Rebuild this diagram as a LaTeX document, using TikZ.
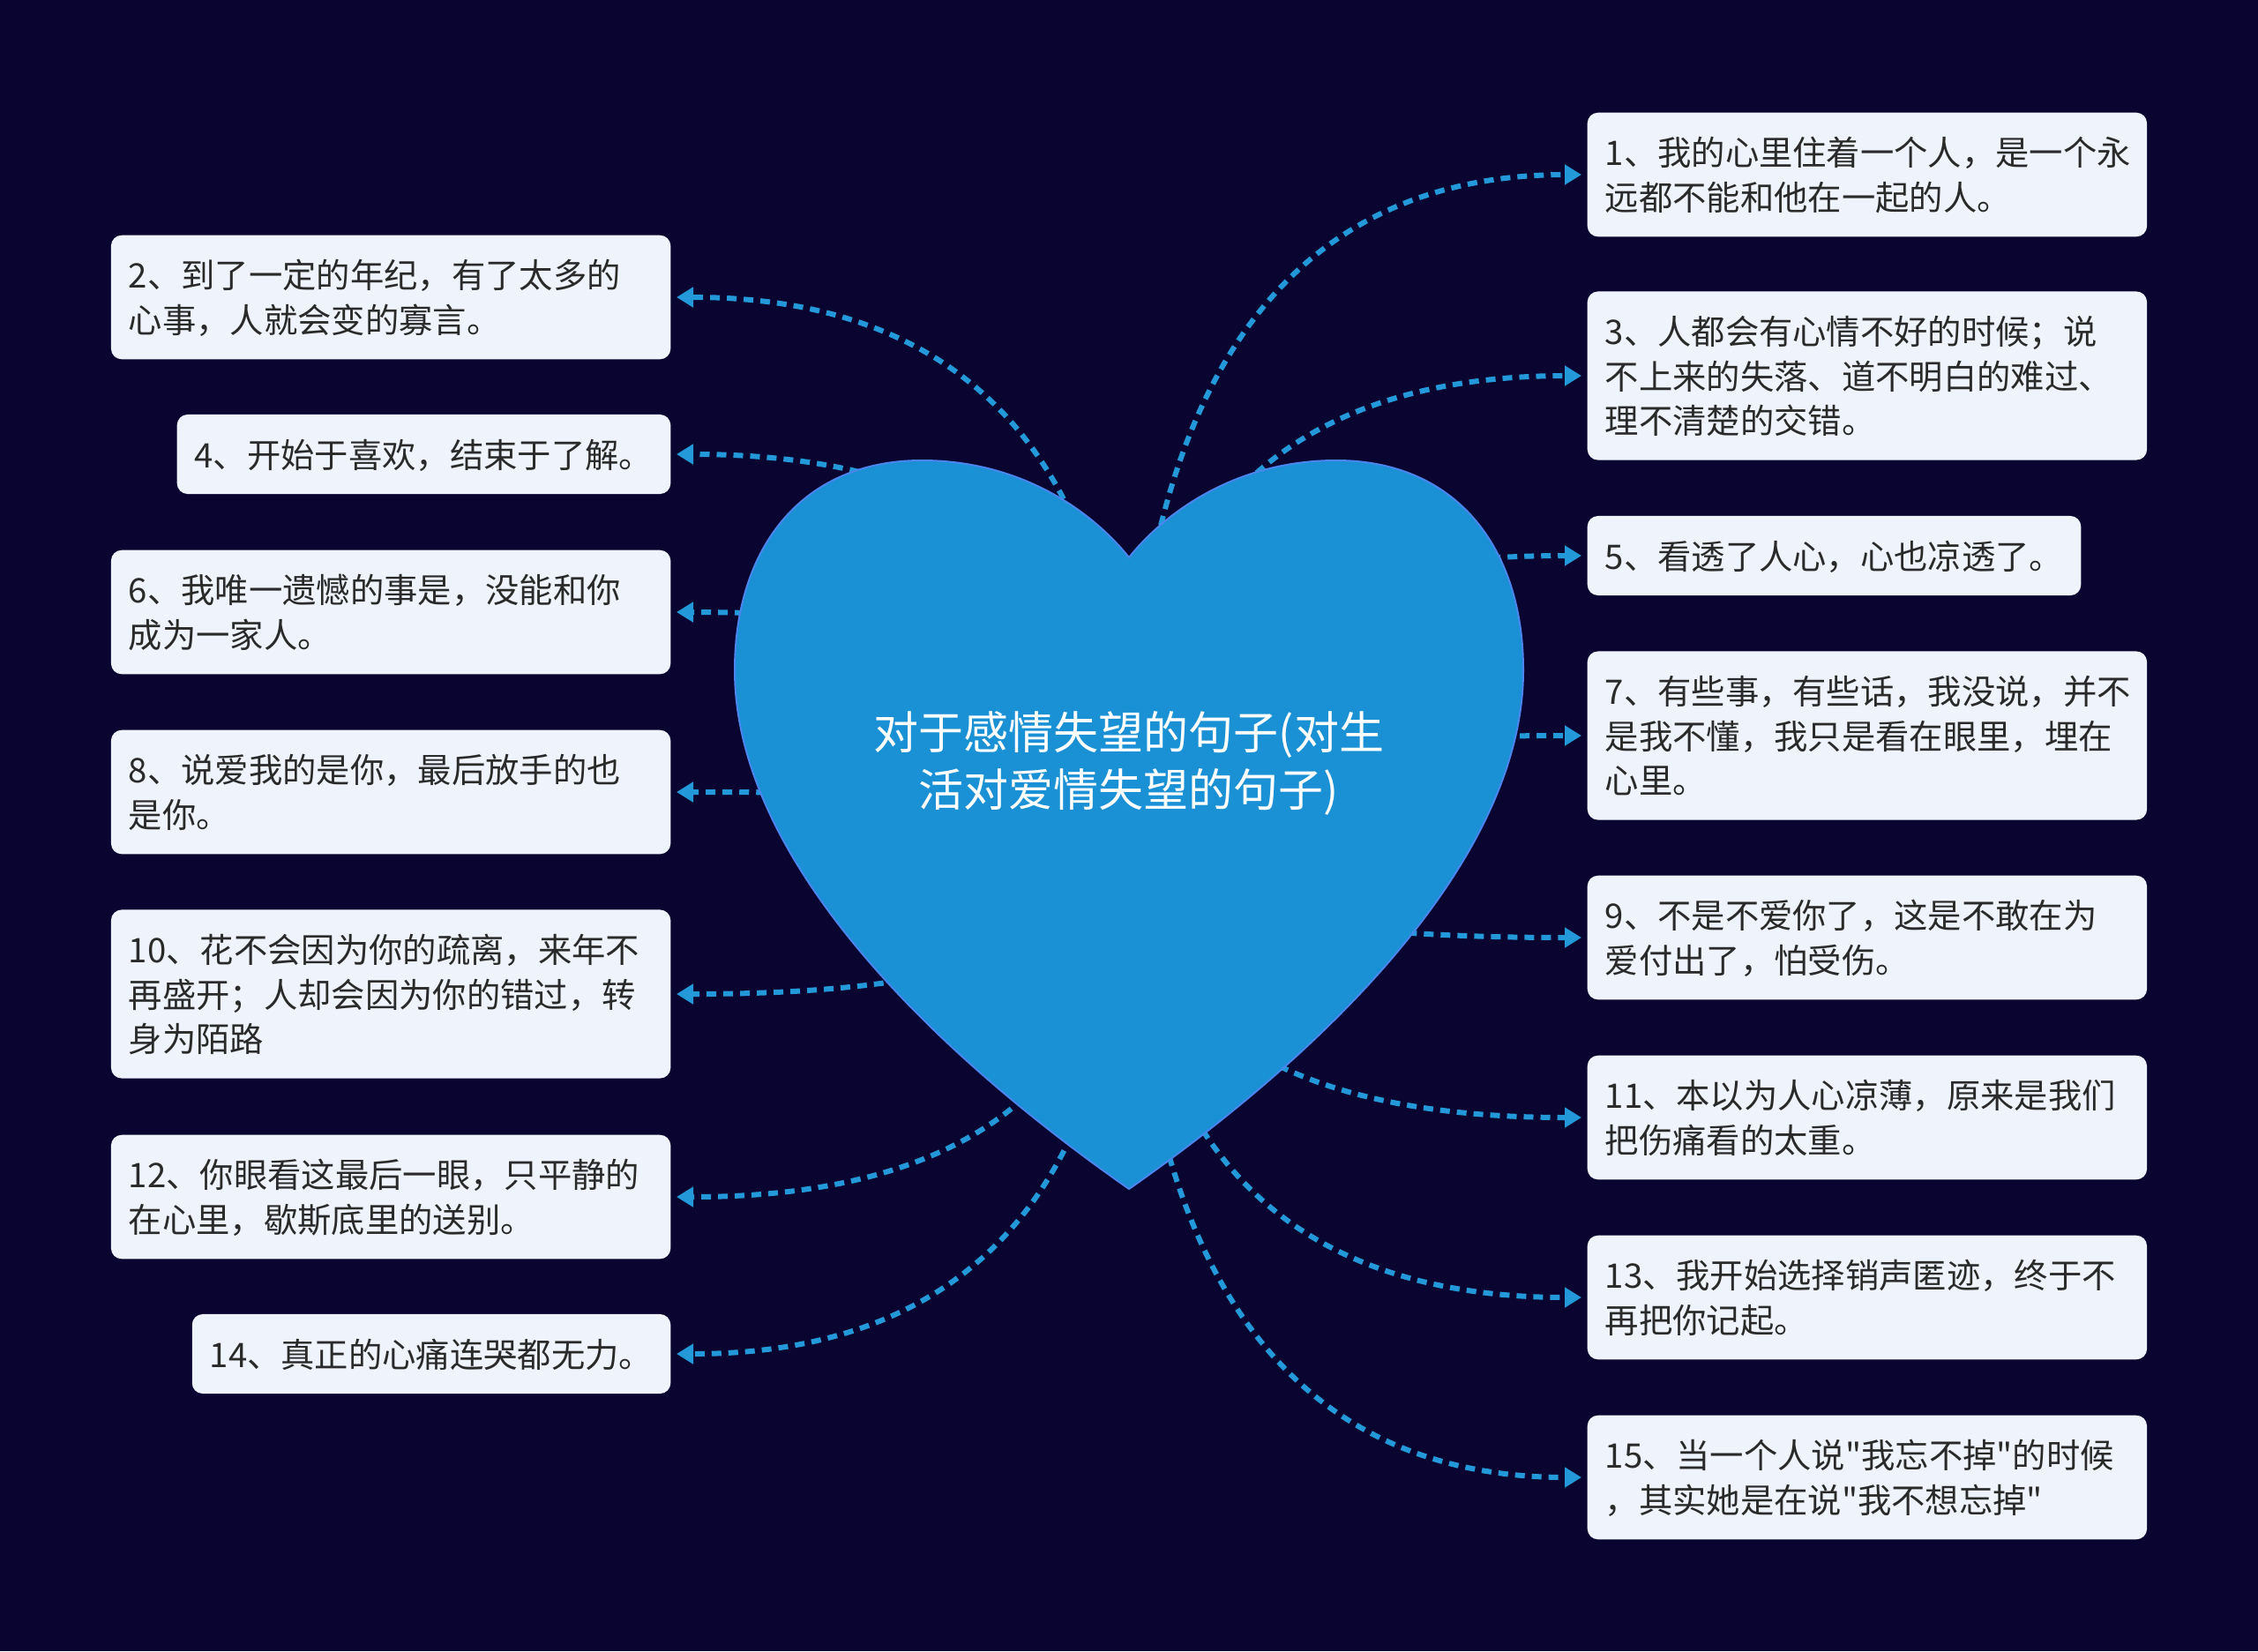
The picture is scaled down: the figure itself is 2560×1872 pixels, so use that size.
\documentclass[tikz,border=0pt]{standalone}
\usepackage{fontspec}
\setmainfont{Noto Sans CJK SC}[Ligatures=TeXOff]
\usepackage{xcolor}
\definecolor{bgnavy}{HTML}{0A0530}
\definecolor{heartblue}{HTML}{1A90D5}
\definecolor{heartedge}{HTML}{4A86EE}
\definecolor{linkblue}{HTML}{2399DA}
\definecolor{boxfill}{HTML}{EEF3FC}
\definecolor{ink}{HTML}{2A2A2A}
\usepackage{tikz}
\usetikzlibrary{arrows.meta, calc}

\newcommand\leaffont{\fontsize{10.9pt}{14.37pt}\selectfont\lineskiplimit=-10pt}
\newcommand\leafstrut{\rule[-2.92pt]{0pt}{14.37pt}}
\newcommand\rootfont{\fontsize{14.5pt}{18.5pt}\selectfont}

\begin{document}
\begin{tikzpicture}[
    x=0.01cm, y=-0.01cm,
    leaf/.style={
        rectangle, fill=boxfill, rounded corners=0.12cm,
        inner xsep=0.2cm, inner ysep=0.1975cm,
        align=left, text=ink, font=\leaffont,
        execute at begin node=\leafstrut, execute at end node=\leafstrut
    },
    wide/.style={leaf, text width=5.94cm},
    link/.style={
        draw=linkblue, line width=0.06cm, dash pattern=on 0.11cm off 0.08cm,
        -{Triangle[length=0.19cm, width=0.22cm]}, shorten >=0.06cm
    },
    root/.style={font=\rootfont, text=white, align=center}
]
    \useasboundingbox (0,0) rectangle (2560,1872);
    \fill[bgnavy] (0,0) rectangle (2560,1872);

    % left column
    \node[wide, anchor=east] (b2)  at (761,337)  {2、到了一定的年纪，有了太多的\\心事，人就会变的寡言。};
    \node[leaf, anchor=east] (b4)  at (761,515)  {4、开始于喜欢，结束于了解。};
    \node[wide, anchor=east] (b6)  at (761,694)  {6、我唯一遗憾的事是，没能和你\\成为一家人。};
    \node[wide, anchor=east] (b8)  at (761,898)  {8、说爱我的是你，最后放手的也\\是你。};
    \node[wide, anchor=east] (b10) at (761,1127) {10、花不会因为你的疏离，来年不\\再盛开；人却会因为你的错过，转\\身为陌路};
    \node[wide, anchor=east] (b12) at (761,1357) {12、你眼看这最后一眼，只平静的\\在心里，歇斯底里的送别。};
    \node[leaf, anchor=east] (b14) at (761,1535) {14、真正的心痛连哭都无力。};

    % right column
    \node[wide, anchor=west] (b1)  at (1799,198)  {1、我的心里住着一个人，是一个永\\远都不能和他在一起的人。};
    \node[wide, anchor=west] (b3)  at (1799,426)  {3、人都会有心情不好的时候；说\\不上来的失落、道不明白的难过、\\理不清楚的交错。};
    \node[leaf, anchor=west] (b5)  at (1799,630)  {5、看透了人心，心也凉透了。};
    \node[wide, anchor=west] (b7)  at (1799,834)  {7、有些事，有些话，我没说，并不\\是我不懂，我只是看在眼里，埋在\\心里。};
    \node[wide, anchor=west] (b9)  at (1799,1063) {9、不是不爱你了，这是不敢在为\\爱付出了，怕受伤。};
    \node[wide, anchor=west] (b11) at (1799,1267) {11、本以为人心凉薄，原来是我们\\把伤痛看的太重。};
    \node[wide, anchor=west] (b13) at (1799,1471) {13、我开始选择销声匿迹，终于不\\再把你记起。};
    \node[wide, anchor=west] (b15) at (1799,1675) {15、当一个人说"我忘不掉"的时候\\，其实她是在说"我不想忘掉"};

    \coordinate (hub) at (1280,935);

    % connectors
    \foreach \b in {b1,b3,b5,b7,b9,b11,b13,b15}
        \draw[link] (hub) .. controls ($(hub)!0.667!(hub|-\b.west)$) and ($(\b.west)!0.667!(hub|-\b.west)$) .. (\b.west);
    \foreach \b in {b2,b4,b6,b8,b10,b12,b14}
        \draw[link] (hub) .. controls ($(hub)!0.667!(hub|-\b.east)$) and ($(\b.east)!0.667!(hub|-\b.east)$) .. (\b.east);

    % heart
    \filldraw[fill=heartblue, draw=heartedge, line width=0.02cm]
        (1280,632) .. controls (1240,582) and (1160,522) .. (1045,522)
        .. controls (910,522) and (833,620) .. (833,760)
        .. controls (833,960) and (1030,1173) .. (1280,1348)
        .. controls (1530,1173) and (1727,960) .. (1727,760)
        .. controls (1727,620) and (1650,522) .. (1515,522)
        .. controls (1400,522) and (1320,582) .. cycle;

    \node[root] (root) at (1280,865) {对于感情失望的句子(对生\\活对爱情失望的句子)};
\end{tikzpicture}
\end{document}
